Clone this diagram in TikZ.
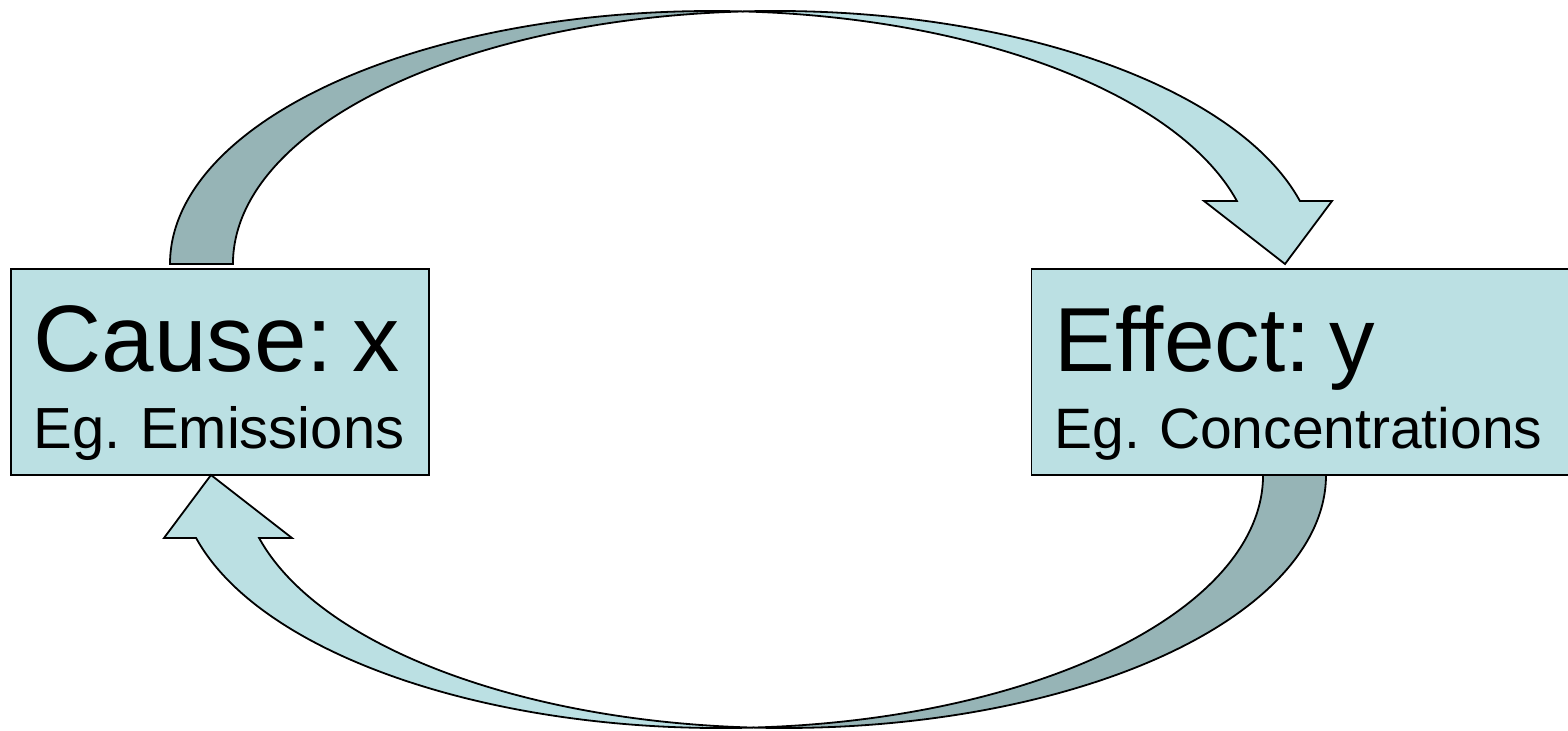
\documentclass[tikz,border=0pt]{standalone}
\usepackage{fontspec}
\setmainfont{Liberation Sans}
\usepackage{tikz}
\usetikzlibrary{positioning}
\definecolor{cbox}{RGB}{187,224,227}
\definecolor{cback}{RGB}{150,180,182}
\newcommand{\bigfont}[1][45.5]{\fontsize{#1}{54}\selectfont}
\newcommand{\smallfont}[1][28.5]{\fontsize{#1}{38.3}\selectfont\frenchspacing}
\newcommand{\topstrut}{\rule{0pt}{43.9pt}}

\begin{document}
\begin{tikzpicture}[
  x=0.5pt, y=0.5pt,
  box/.style={draw=black, line width=0.9pt, fill=cbox, outer sep=0pt,
    minimum height=103pt, inner xsep=11.5pt, inner ysep=0pt, align=left,
    font=\smallfont},
  front/.style={draw=black, line width=0.9pt, fill=cbox},
  back/.style={draw=black, line width=0.9pt, fill=cback},
  band/.style={x radius=542, y radius=253},
  node distance=301.25pt,
]
\useasboundingbox (0,0) rectangle (1568,730);
\clip (0,0) rectangle (1568,730);
\node[box, text width=186.15pt, font={\smallfont[29]}] (cause) at (219.85,358)
  {{\bigfont[47.2]\topstrut Cause: x}\\ Eg. Emissions};
\node[box, text width=251.25pt, right=of cause] (effect)
  {{\bigfont\topstrut Effect: y}\\ Eg. Concentrations};
\foreach \r in {0,180} {
  \begin{scope}[rotate around={\r:(748,360.5)}]
    \path[back] (170,466) arc[band, start angle=180, end angle=86.67]
      arc[band, start angle=93.33, end angle=180] -- cycle;
    \path[front] (743.5,718.6) arc[band, start angle=93.33, end angle=14.42]
      -- (1332,529) -- (1285,466) -- (1204,529) -- (1236.9,529)
      arc[band, start angle=14.42, end angle=86.67] -- cycle;
  \end{scope}
}
\end{tikzpicture}
\end{document}
